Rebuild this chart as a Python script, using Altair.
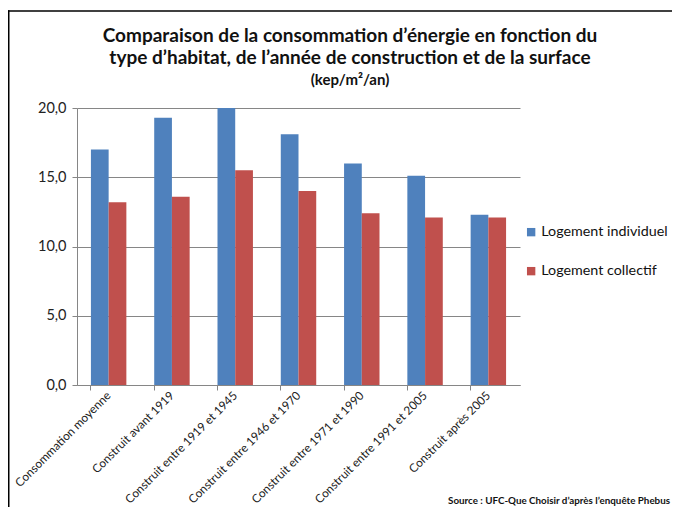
import altair as alt
import pandas as pd

categories = [
    "Consommation moyenne",
    "Construit avant 1919",
    "Construit entre 1919 et 1945",
    "Construit entre 1946 et 1970",
    "Construit entre 1971 et 1990",
    "Construit entre 1991 et 2005",
    "Construit après 2005",
]
series = ["Logement individuel", "Logement collectif"]
individuel = [17.0, 19.3, 20.0, 18.1, 16.0, 15.1, 12.3]
collectif = [13.2, 13.6, 15.5, 14.0, 12.4, 12.1, 12.1]
colors = ["#4F81BD", "#C0504D"]
title_lines = ["Comparaison de la consommation d’énergie en fonction du",
               "type d’habitat, de l’année de construction et de la surface"]
unit_line = "(kep/m²/an)"
source_line = "Source : UFC-Que Choisir d’après l’enquête Phebus"

rows = []
for c, a, b in zip(categories, individuel, collectif):
    rows.append({"cat": c, "serie": series[0], "val": a})
    rows.append({"cat": c, "serie": series[1], "val": b})
df = pd.DataFrame(rows)

FONT = "Lato"

bars = alt.Chart(df).mark_bar().encode(
    x=alt.X("cat:N", sort=categories, title=None,
            scale=alt.Scale(paddingInner=0.44, paddingOuter=0.22),
            axis=alt.Axis(labelAngle=-45, labelAlign="right", labelBaseline="middle",
                          labelFontSize=11.8, labelFont=FONT, labelColor="#222",
                          domainColor="#868686", tickColor="#868686", ticks=True,
                          bandPosition=0, tickSize=5, labelPadding=3, grid=False)),
    xOffset=alt.XOffset("serie:N", sort=series, scale=alt.Scale(paddingInner=0, paddingOuter=0)),
    y=alt.Y("val:Q", title=None,
            scale=alt.Scale(domain=[0, 20], nice=False),
            axis=alt.Axis(values=[0, 5, 10, 15, 20],
                          labelExpr="replace(format(datum.value, '.1f'), '.', ',')",
                          labelFontSize=14.5, labelFont=FONT, labelColor="#222",
                          gridColor="#868686", domainColor="#868686", tickColor="#868686",
                          tickSize=5, labelPadding=6)),
    color=alt.Color("serie:N", sort=series,
                    scale=alt.Scale(domain=series, range=colors),
                    legend=alt.Legend(title=None, orient="none", legendX=447, legendY=117,
                                      symbolType="square", symbolSize=70,
                                      symbolStrokeWidth=0, symbolOpacity=1,
                                      labelFontSize=14.3, labelFont=FONT, labelColor="#111",
                                      rowPadding=24, labelOffset=3, labelLimit=300)),
)

def text_line(txt, y, size):
    return alt.Chart(pd.DataFrame({"t": [txt]})).mark_text(
        align="center", baseline="middle", fontSize=size, fontWeight="bold", font=FONT,
        color="#111").encode(text="t:N", x=alt.value(273), y=alt.value(y))

t1 = text_line(title_lines[0], -72, 19)
t2 = text_line(title_lines[1], -50, 19)
t3 = text_line(unit_line, -28, 15)

source = alt.Chart(pd.DataFrame({"t": [source_line]})).mark_text(
    align="right", baseline="bottom", fontSize=9.8, fontWeight="bold", font=FONT,
    color="#111").encode(text="t:N", x=alt.value(593), y=alt.value(398))

frame_df = pd.DataFrame({"k": [1]})
top_line = alt.Chart(frame_df).mark_rule(color="#000", strokeWidth=1.5).encode(
    x=alt.value(-69), x2=alt.value(700), y=alt.value(-97))
left_line = alt.Chart(frame_df).mark_rule(color="#000", strokeWidth=1.5).encode(
    x=alt.value(-68.25), y=alt.value(-97.75), y2=alt.value(500))

chart = alt.layer(bars, t1, t2, t3, source, top_line, left_line).properties(
    width=443, height=277,
    autosize=alt.AutoSizeParams(type="none"),
    padding={"left": 69, "top": 100, "right": 152, "bottom": 122},
).configure_view(stroke=None)

chart.save("out.html", embed_options={"renderer": "svg", "actions": False})
